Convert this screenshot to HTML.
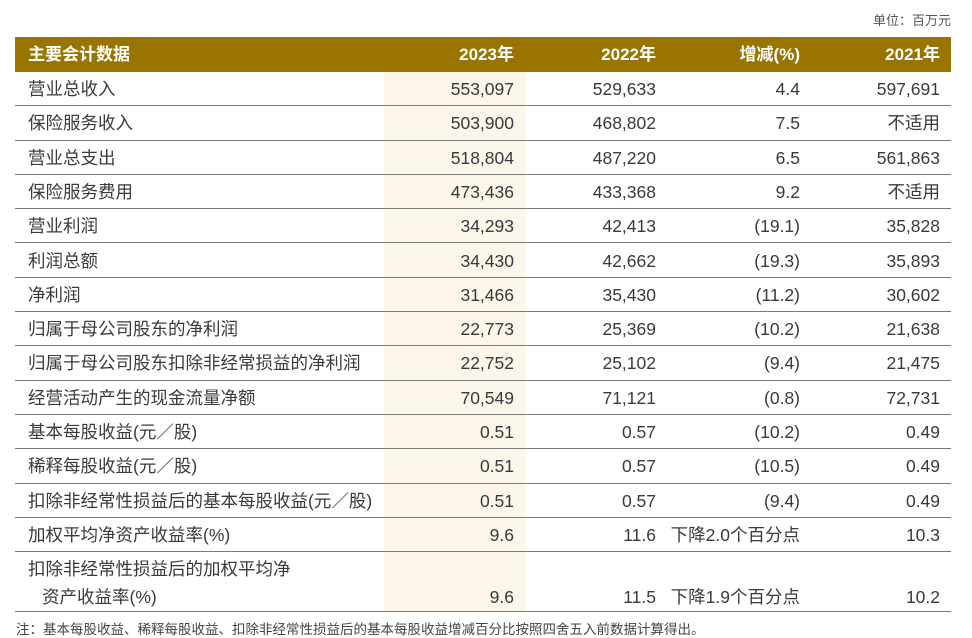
<!DOCTYPE html>
<html><head><meta charset="utf-8">
<style>
body{margin:0;background:#fff;width:972px;height:638px;position:relative;overflow:hidden;font-family:"Liberation Sans","Noto Sans CJK SC",sans-serif;color:#3a3a3a}
.unit{position:absolute;right:21px;top:10px;font-size:13px;color:#555}
.hl{position:absolute;left:384px;width:142px;top:72px;height:540px;background:#fbf5ea}
.hdr{position:absolute;left:15px;width:936px;top:37px;height:35px;background:#9a7400;color:#fff;font-weight:bold;font-size:17px}
.row{position:absolute;left:15px;width:936px;border-bottom:1px solid #7a7a7a;font-size:17.5px}
.c{position:absolute;white-space:nowrap;line-height:22px;height:22px}
.l{left:13px}
.a{right:437px;text-align:right}
.b{right:295px;text-align:right}
.d{right:151px;text-align:right}
.e{right:11px;text-align:right}
.note{position:absolute;left:16px;top:618px;font-size:13.5px;color:#444;white-space:nowrap}
</style></head><body>
<div class="unit">单位：百万元</div>
<div class="hl"></div>
<div class="hdr">
<span class="c l" style="top:7px">主要会计数据</span>
<span class="c a" style="top:7px">2023年</span>
<span class="c b" style="top:7px">2022年</span>
<span class="c d" style="top:7px">增减(%)</span>
<span class="c e" style="top:7px">2021年</span>
</div>
<div id="rows"></div>
<div class="note">注：基本每股收益、稀释每股收益、扣除非经常性损益后的基本每股收益增减百分比按照四舍五入前数据计算得出。</div>
<script>
const labels=["营业总收入","保险服务收入","营业总支出","保险服务费用","营业利润","利润总额","净利润","归属于母公司股东的净利润","归属于母公司股东扣除非经常损益的净利润","经营活动产生的现金流量净额","基本每股收益(元／股)","稀释每股收益(元／股)","扣除非经常性损益后的基本每股收益(元／股)","加权平均净资产收益率(%)"];
const v2023=["553,097","503,900","518,804","473,436","34,293","34,430","31,466","22,773","22,752","70,549","0.51","0.51","0.51","9.6"];
const v2022=["529,633","468,802","487,220","433,368","42,413","42,662","35,430","25,369","25,102","71,121","0.57","0.57","0.57","11.6"];
const vchg=["4.4","7.5","6.5","9.2","(19.1)","(19.3)","(11.2)","(10.2)","(9.4)","(0.8)","(10.2)","(10.5)","(9.4)","下降2.0个百分点"];
const v2021=["597,691","不适用","561,863","不适用","35,828","35,893","30,602","21,638","21,475","72,731","0.49","0.49","0.49","10.3"];
(function(){
const R=document.getElementById('rows');
const h=34.3;
function mk(cls,txt,t){const s=document.createElement('span');s.className='c '+cls;s.textContent=txt;s.style.top=t+'px';return s;}
for(let i=0;i<labels.length;i++){
 const r=document.createElement('div');r.className='row';
 
 
 r.style.top=(72+i*h)+'px';r.style.height=(h-1)+'px';
 const t=6;
 r.appendChild(mk('l',labels[i],t));
 r.appendChild(mk('a',v2023[i],t));
 r.appendChild(mk('b',v2022[i],t));
 r.appendChild(mk('d',vchg[i],t));
 r.appendChild(mk('e',v2021[i],t));
 R.appendChild(r);
}
const lr=document.createElement('div');lr.className='row';


const lastTop=72+14*h;lr.style.top=lastTop+'px';lr.style.height=(612-lastTop-1)+'px';
lr.appendChild(mk('l','扣除非经常性损益后的加权平均净',6));
const s2=mk('l','资产收益率(%)',34);s2.style.left='27px';lr.appendChild(s2);
lr.appendChild(mk('a','9.6',34));
lr.appendChild(mk('b','11.5',34));
lr.appendChild(mk('d','下降1.9个百分点',34));
lr.appendChild(mk('e','10.2',34));
R.appendChild(lr);
})();
</script>
</body></html>
